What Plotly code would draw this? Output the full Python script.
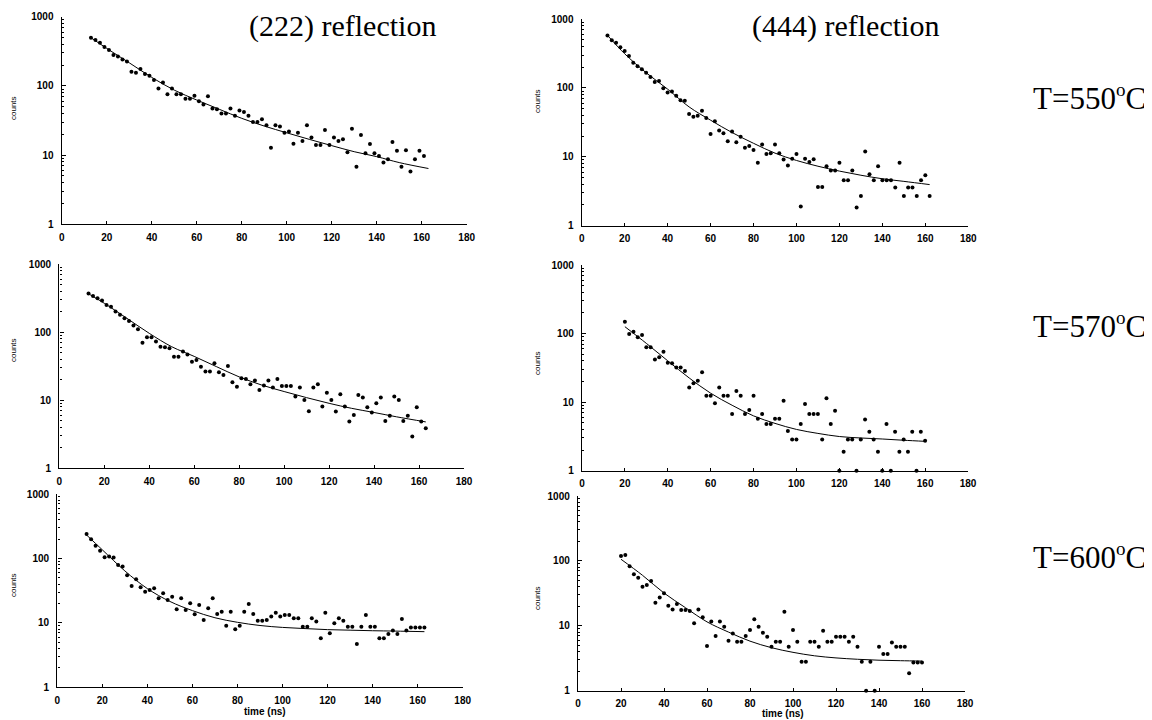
import plotly.graph_objects as go

# ---------------- data ----------------
TIME_A = [13, 15, 17, 19, 21, 23, 25, 27, 29, 31, 33, 35, 37, 39, 41, 43, 45, 47, 49, 51,
          53, 55, 57, 59, 61, 63, 65, 67, 69, 71, 73, 75, 77, 79, 81, 83, 85, 87, 89, 91,
          93, 95, 97, 99, 101, 103, 105, 107, 109, 111, 113, 115, 117, 119, 121, 123, 125, 127, 129, 131,
          133, 135, 137, 139, 141, 143, 145, 147, 149, 151, 153, 155, 157, 159, 161]
TIME_B = [13, 15, 17, 19, 21, 23, 25, 27, 29, 31, 33, 35, 37, 39, 41, 43, 45, 47, 49, 51,
          53, 55, 57, 59, 61, 63, 65, 67, 69, 71, 73, 75, 77, 79, 81, 83, 85, 87, 89, 91,
          93, 95, 97, 99, 101, 103, 105, 107, 109, 111, 113, 115, 117, 119, 121, 123, 125, 127, 129, 131,
          133, 135, 137, 139, 141, 143, 145, 147, 149, 151, 153, 155, 157, 159, 161, 163]
TIME_C = [12, 14, 16, 18, 20, 22, 24, 26, 28, 30, 32, 34, 36, 38, 40, 42, 44, 46, 48, 50,
          52, 54, 56, 58, 60, 62, 64, 66, 68, 70, 72, 74, 76, 78, 80, 82, 84, 86, 88, 90,
          92, 94, 96, 98, 100, 102, 104, 106, 108, 110, 112, 114, 116, 118, 120, 122, 124, 126, 128, 130,
          132, 134, 136, 138, 140, 142, 144, 146, 148, 150, 152, 154, 156, 158, 160, 162]
TIME_D = [20, 22, 24, 26, 28, 30, 32, 34, 36, 38, 40, 42, 44, 46, 48, 50, 52, 54, 56, 58,
          60, 62, 64, 66, 68, 70, 72, 74, 76, 78, 80, 82, 84, 86, 88, 90, 92, 94, 96, 98,
          100, 102, 104, 106, 108, 110, 112, 114, 116, 118, 120, 122, 124, 126, 128, 130, 132, 134, 136, 138,
          140, 142, 144, 146, 148, 150, 152, 154, 156, 158, 160]

# (222) reflection, T=550
COUNTS_222_550 = [497, 460, 420, 365, 330, 280, 265, 240, 225,
                  160, 155, 175, 148, 140, 122, 92, 112, 76, 92, 76, 76, 65, 65, 72, 60, 54, 71, 47, 46,
                  40, 40, 47, 37, 44, 42, 37, 30, 30, 33, 27, 12.8, 27, 26, 21, 22, 14.6, 21, 16, 27,
                  18, 14, 14, 23, 14, 18, 16, 17, 11, 24, 6.8, 19.5, 10.6, 14.5, 10.6, 9.7, 7.8, 8.7,
                  15.5, 11.6, 6.8, 11.8, 5.8, 8.7, 11.6, 9.7]
# (444) reflection, T=550
COUNTS_444_550 = [575, 492, 451, 390, 342, 290, 232, 207, 186, 166, 144, 122, 126, 99, 86, 89, 77, 66, 65,
                  41.7, 38, 39.5, 46.6, 36.5, 21.5, 32.7, 24, 21.9, 16.8, 23.2, 16.3, 19.6, 13.5, 14.3,
                  12.6, 8.2, 15.1, 11, 11.3, 15.1, 11.3, 9.1, 7.5, 9.4, 11, 1.9, 9.4, 8.4, 9.2, 3.65,
                  3.65, 7.3, 6.35, 6.35, 8.2, 4.56, 4.56, 6.35, 1.84, 2.7, 11.9, 5.6, 4.56, 7.3, 4.56,
                  4.56, 4.56, 3.57, 8.2, 2.7, 3.57, 3.57, 2.7, 4.56, 5.4, 2.7]
# (222) reflection, T=570
COUNTS_222_570 = [370, 340, 315, 290, 250, 235, 200, 180, 160, 145, 125, 110,
                  70, 84, 84, 72.5, 61, 60, 58, 43.6, 43.6, 51.7, 47, 36.8, 39, 31, 26.3, 26.3, 34.8,
                  25.7, 23.5, 31.8, 18.3, 15.8, 21, 20.5, 17.1, 19.4, 14.1, 16.4, 19.4, 15.3, 20.5,
                  16.2, 16.2, 16.2, 11.3, 15.3, 10.1, 6.9, 15.3, 17.1, 8.05, 12.9, 10.1, 6.8, 12.2,
                  8.05, 4.85, 6.07, 11.9, 11, 7.9, 6.6, 9, 11, 4.95, 5.9, 11.3, 10.1, 4.95, 5.9, 2.92,
                  7.9, 4.85, 3.87]
# (444) reflection, T=570
COUNTS_444_570 = [149, 98.5, 106, 88, 95, 63, 63, 42, 45, 54.4, 37.6, 36.8, 32, 32, 28.4, 16.4, 18.8,
                  20.5, 27.2, 12.4, 12.4, 9.6, 16.4, 12.4, 12.4, 6.7, 14.5, 12.4, 6.7, 7.7, 12.4, 5.7,
                  6.7, 4.8, 4.8, 5.7, 5.7, 10.5, 3.79, 2.86, 2.86, 4.8, 9.4, 6.7, 6.7, 6.7, 2.86, 11.35,
                  4.8, 7.5, 1, 1.89, 2.86, 2.86, 1, 2.86, 5.6, 3.7, 2.86, 1.89, 1, 4.8, 1, 3.7, 1.89,
                  2.86, 1.89, 3.7, 1, 3.7, 2.74]
# (222) reflection, T=600
COUNTS_222_600 = [240, 198, 158, 132, 104, 107, 103, 79, 75, 55, 37.4, 47.4, 35.6, 30.5, 32.4, 34.4,
                  24, 28.8, 22.7, 25.5, 16.2, 24, 15.9, 20.1, 13.6, 19, 11.1, 16.8, 24, 13.7, 14.9, 9,
                  14.9, 7.95, 9, 14.9, 19.6, 13.7, 10.8, 10.8, 11.1, 12.5, 14.4, 12.5, 13.3, 13.3, 11.8,
                  11.8, 8.7, 8.7, 11.8, 10.5, 5.76, 14.4, 6.9, 9.85, 11.8, 10.8, 8.7, 8.7, 4.7, 8.7,
                  13.3, 8.7, 8.7, 5.76, 5.76, 6.7, 7.6, 6.7, 11.5, 7.6, 8.5, 8.5, 8.5, 8.5]
# (444) reflection, T=600
COUNTS_444_600 = [119, 123, 83, 62, 55, 40, 42.5, 49, 22.7, 27.4, 31.6, 20.4, 17.9, 21.6, 17.5, 17.5,
                  16.9, 10.9, 17.9, 13.5, 4.9, 11.6, 6.96, 11.6, 9.7, 5.9, 7.6, 5.7, 5.7, 6.96, 8.6,
                  12.6, 9.7, 7.8, 6.8, 4.76, 5.7, 5.7, 16.5, 4.76, 8.6, 5.7, 2.8, 2.8, 5.7, 5.7, 4.76,
                  8.4, 5.7, 5.7, 6.8, 6.8, 6.8, 5.7, 6.8, 4.76, 2.8, 1, 2.8, 1, 4.76, 3.67, 3.67, 5.55,
                  4.76, 4.76, 4.76, 1.85, 2.73, 2.73, 2.73]

# fitted curves
FIT_T_A = [13, 20, 30, 40, 50, 60, 70, 80, 90, 100, 110, 120, 130, 140, 150, 163]
FIT_222_550 = [497, 349, 216, 133, 87, 62.5, 46, 34, 26.3, 21, 16.9, 13.7, 11.2, 9.5, 7.8, 6.4]
FIT_T_C = [12, 20, 30, 40, 50, 60, 70, 80, 90, 100, 110, 120, 130, 140, 150, 162]
FIT_444_550 = [580, 313, 166, 96, 53, 34, 22.5, 15.7, 11.3, 8.85, 7.3, 6.2, 5.4, 4.8, 4.4, 3.95]
FIT_222_570 = [365, 265, 160, 96, 61, 44, 31, 22, 16.7, 13.4, 10.9, 9, 7.6, 6.6, 5.7, 4.8]
FIT_T_D = [20, 30, 40, 50, 60, 70, 80, 90, 100, 110, 120, 130, 140, 150, 160]
FIT_444_570 = [126, 72, 40, 22.5, 13.5, 9, 6.3, 4.9, 4.0, 3.5, 3.15, 3.0, 2.9, 2.78, 2.68]
FIT_222_600 = [231, 136, 64, 34, 21.5, 15.5, 12, 10.2, 9.1, 8.5, 8.15, 7.85, 7.7, 7.55, 7.45, 7.3]
FIT_444_600 = [106, 60, 32, 19, 11.5, 8, 5.8, 4.6, 3.9, 3.45, 3.2, 3.05, 2.95, 2.9, 2.86]

COLUMN_TITLES = ["(222) reflection", "(444) reflection"]
SUP_O = '<sup><span style="font-size:19px">o</span></sup>'
ROW_LABELS = ["T=550" + SUP_O + "C", "T=570" + SUP_O + "C", "T=600" + SUP_O + "C"]
X_TICKS = [0, 20, 40, 60, 80, 100, 120, 140, 160, 180]

# ---------------- layout geometry (screen pixels) ----------------
PAGE_OFF = 8            # default page margin around the plot div
W, H = 1144, 712        # figure size so that figure + page margin fills the 1152x720 window


def px(x):
    return (x - PAGE_OFF) / W


def py(y):
    return 1 - (y - PAGE_OFF) / H


panels = [
    # (x0, x1, ytop, ybottom, times, counts, fit_t, fit_y)
    (61.7, 466.7, 16.7, 224.3, TIME_A, COUNTS_222_550, FIT_T_A, FIT_222_550),
    (581.7, 968.3, 19.0, 225.7, TIME_C, COUNTS_444_550, FIT_T_C, FIT_444_550),
    (59.3, 464.0, 264.0, 468.3, TIME_B, COUNTS_222_570, FIT_T_A, FIT_222_570),
    (582.0, 968.0, 265.0, 470.7, TIME_D, COUNTS_444_570, FIT_T_D, FIT_444_570),
    (57.3, 462.7, 494.0, 687.3, TIME_B, COUNTS_222_600, FIT_T_A, FIT_222_600),
    (578.0, 965.0, 496.0, 690.7, TIME_D, COUNTS_444_600, FIT_T_D, FIT_444_600),
]

tickfont = dict(family="Liberation Sans, Arial, sans-serif", size=10, color="black", weight="bold")

fig = go.Figure()
layout = dict(
    width=W, height=H, margin=dict(l=0, r=0, t=0, b=0),
    paper_bgcolor="white", plot_bgcolor="white", showlegend=False,
    template="none",
)

for i, (x0, x1, yt, yb, tt, cc, ft, fy) in enumerate(panels):
    n = i + 1
    xa = "x" if n == 1 else f"x{n}"
    ya = "y" if n == 1 else f"y{n}"
    fig.add_trace(go.Scatter(x=ft, y=fy, mode="lines", line=dict(color="black", width=1, shape="spline"),
                             xaxis=xa, yaxis=ya, hoverinfo="skip"))
    fig.add_trace(go.Scatter(x=tt, y=cc, mode="markers", marker=dict(color="black", size=4),
                             xaxis=xa, yaxis=ya, cliponaxis=False))
    xkey = "xaxis" if n == 1 else f"xaxis{n}"
    ykey = "yaxis" if n == 1 else f"yaxis{n}"
    layout[xkey] = dict(
        domain=[px(x0), px(x1)], anchor=ya, range=[0, 180],
        tickmode="array", tickvals=X_TICKS, ticktext=[str(v) for v in X_TICKS],
        ticks="inside", ticklen=3, tickwidth=1, tickcolor="black",
        showline=True, linecolor="black", linewidth=1.4, showgrid=False, zeroline=False,
        tickfont=tickfont, ticklabelstandoff=3, automargin=False,
    )
    layout[ykey] = dict(
        domain=[py(yb), py(yt)], anchor=xa, type="log", range=[0, 3],
        tickmode="linear", tick0=0, dtick=1, exponentformat="none",
        ticks="inside", ticklen=4, tickwidth=1, tickcolor="black",
        minor=dict(ticks="inside", ticklen=2, tickcolor="black", showgrid=False),
        showline=True, linecolor="black", linewidth=1.4, showgrid=False, zeroline=False,
        tickfont=tickfont, ticklabelstandoff=5, automargin=False,
    )

annotations = []
serif = dict(family="Liberation Serif, Times New Roman, serif", size=30, color="black")
annotations.append(dict(text=COLUMN_TITLES[0], x=px(342), y=py(26), xref="paper", yref="paper",
                        showarrow=False, font=serif, xanchor="center", yanchor="middle"))
annotations.append(dict(text=COLUMN_TITLES[1], x=px(845), y=py(26), xref="paper", yref="paper",
                        showarrow=False, font=serif, xanchor="center", yanchor="middle"))
serif_t = dict(family="Liberation Serif, Times New Roman, serif", size=31, color="black")
for lbl, yc in zip(ROW_LABELS, [97, 326, 556]):
    annotations.append(dict(text=lbl, x=px(1148), y=py(yc), xref="paper", yref="paper",
                            showarrow=False, font=serif_t, xanchor="right", yanchor="middle"))

small = dict(family="Liberation Sans, Arial, sans-serif", size=8, color="black")
for xc, yc in [(13, 108), (537, 101), (13, 350), (537, 363), (13, 585), (537, 598)]:
    annotations.append(dict(text="counts", x=px(xc), y=py(yc), xref="paper", yref="paper",
                            showarrow=False, font=small, textangle=-90, xanchor="center", yanchor="middle"))
for xc, yc in [(265, 711), (783, 713)]:
    annotations.append(dict(text="time (ns)", x=px(xc), y=py(yc), xref="paper", yref="paper",
                            showarrow=False, font=tickfont, xanchor="center", yanchor="middle"))

layout["annotations"] = annotations
fig.update_layout(**layout)
fig.write_html("out.html")
